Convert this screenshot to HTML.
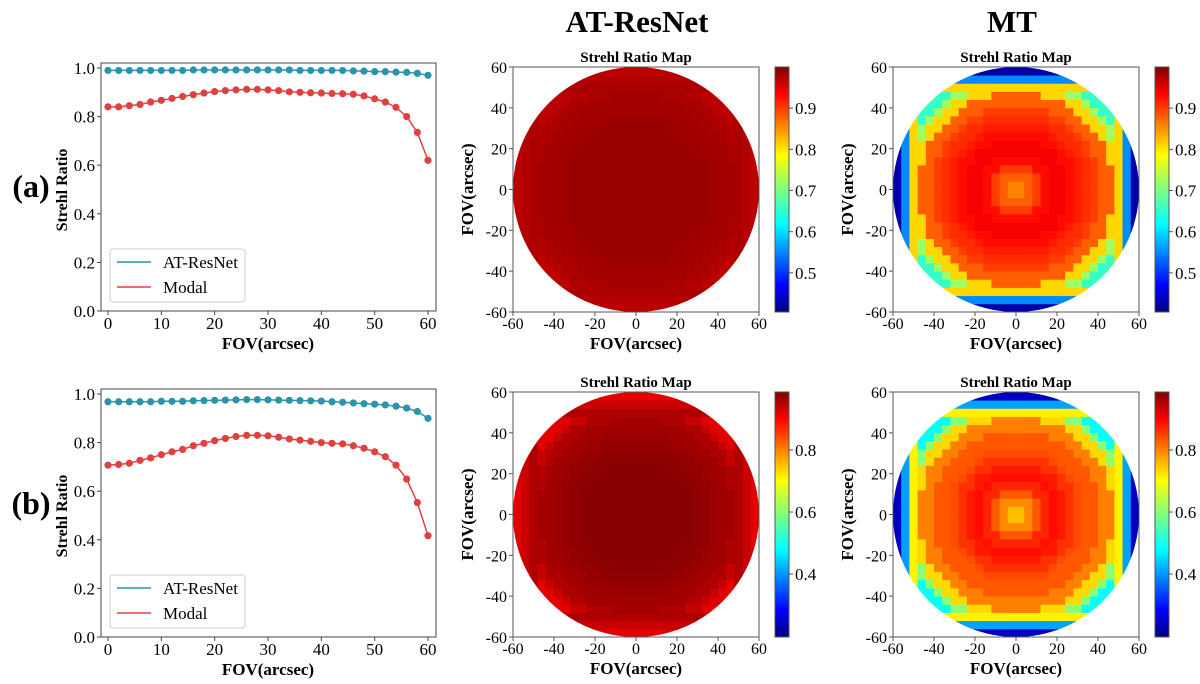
<!DOCTYPE html>
<html><head><meta charset="utf-8"><style>
html,body{margin:0;padding:0;background:#fff;}
svg{display:block;font-family:"Liberation Serif",serif;}
</style></head><body>
<svg id="fig" width="1200" height="684" xmlns="http://www.w3.org/2000/svg">
<defs>
<linearGradient id="jet" x1="0" y1="1" x2="0" y2="0">
<stop offset="0" stop-color="#00007f"/><stop offset="0.11" stop-color="#0000ff"/><stop offset="0.36" stop-color="#00ffff"/><stop offset="0.5" stop-color="#7fff7f"/><stop offset="0.64" stop-color="#ffff00"/><stop offset="0.89" stop-color="#ff0000"/><stop offset="1" stop-color="#7f0000"/>
</linearGradient>
</defs>
<text x="637" y="32" text-anchor="middle" font-size="31" font-weight="bold">AT-ResNet</text>
<text x="1012" y="32" text-anchor="middle" font-size="31" font-weight="bold">MT</text>
<text x="31" y="197" text-anchor="middle" font-size="32" font-weight="bold">(a)</text>
<text x="31" y="514" text-anchor="middle" font-size="32" font-weight="bold">(b)</text>
</svg>
<script>
// ---- Line chart data ----
const fovX = [0,2,4,6,8,10,12,14,16,18,20,22,24,26,28,30,32,34,36,38,40,42,44,46,48,50,52,54,56,58,60];
const atA = [0.99,0.99,0.99,0.99,0.99,0.99,0.99,0.99,0.992,0.992,0.992,0.992,0.992,0.992,0.992,0.992,0.992,0.992,0.99,0.99,0.99,0.99,0.99,0.988,0.987,0.985,0.985,0.983,0.982,0.978,0.97];
const modalA = [0.84,0.84,0.845,0.85,0.86,0.867,0.875,0.883,0.89,0.897,0.903,0.907,0.91,0.912,0.912,0.91,0.907,0.902,0.9,0.898,0.897,0.895,0.894,0.892,0.885,0.873,0.86,0.838,0.80,0.735,0.62];
const atB = [0.968,0.968,0.968,0.968,0.968,0.97,0.97,0.97,0.972,0.973,0.974,0.975,0.976,0.977,0.977,0.976,0.975,0.974,0.973,0.972,0.971,0.968,0.966,0.963,0.96,0.958,0.955,0.95,0.942,0.928,0.90];
const modalB = [0.707,0.71,0.715,0.727,0.737,0.75,0.762,0.772,0.787,0.797,0.808,0.817,0.825,0.83,0.83,0.828,0.822,0.815,0.81,0.805,0.8,0.797,0.795,0.787,0.777,0.762,0.742,0.707,0.65,0.553,0.417];
const xTicks = [0,10,20,30,40,50,60];
const yTicks = [0.0,0.2,0.4,0.6,0.8,1.0];
// ---- Heatmap profiles (value vs radius r=0,4,8,...,44) ----
const atCoreA = [0.985,0.985,0.985,0.985,0.985,0.985,0.985,0.985,0.985,0.983,0.98,0.978];
const atRimA = [0.975,0.97,0.965];
const atBandA = [0.975,0.97,0.965];
const mtCoreA = [0.84,0.85,0.87,0.89,0.92,0.93,0.93,0.92,0.91,0.9,0.89,0.87];
const mtRimA = [0.8,0.72,0.66];
const mtBandA = [0.8,0.56,0.43];
const atCoreB = [0.98,0.98,0.98,0.98,0.98,0.98,0.98,0.978,0.975,0.97,0.965,0.96];
const atRimB = [0.95,0.93,0.91];
const atBandB = [0.95,0.93,0.91];
const mtCoreB = [0.72,0.74,0.78,0.82,0.86,0.88,0.87,0.85,0.83,0.82,0.82,0.79];
const mtRimB = [0.72,0.6,0.5];
const mtBandB = [0.7,0.42,0.25];
const cbTicksA = [0.5,0.6,0.7,0.8,0.9];
const cbTicksB = [0.4,0.6,0.8];
const mapTicks = [-60,-40,-20,0,20,40,60];

const NS = "http://www.w3.org/2000/svg";
const svg = document.getElementById('fig');
function mk(tag, attrs, parent, text){
  const e = document.createElementNS(NS, tag);
  for (const k in attrs) e.setAttribute(k, attrs[k]);
  if (text !== undefined) e.textContent = text;
  (parent||svg).appendChild(e);
  return e;
}
function jet(t){
  t=Math.max(0,Math.min(1,t));
  const f=(x)=>Math.max(0,Math.min(1,1.5-Math.abs(4*t-x)));
  const r=f(3),g=f(2),b=f(1);
  return 'rgb('+Math.round(r*255)+','+Math.round(g*255)+','+Math.round(b*255)+')';
}

function lineChart(dy, at, modal, tag){
  const L=101,R=436,T=63+dy,B=311+dy;
  const sx=v=>108+(v/60)*320;
  const sy=v=>B-v*243;
  const g=mk('g',{},svg);
  
  
  const fr=mk('rect',{x:L,y:T,width:R-L,height:B-T,fill:'none',stroke:'#444','stroke-width':1},g);
  
  
  xTicks.forEach(v=>{
    mk('line',{x1:sx(v),x2:sx(v),y1:B,y2:B+4,stroke:'#444'},g);
    const t=mk('text',{x:sx(v),y:B+18,'text-anchor':'middle','font-size':17},g,String(v));
    
    
  });
  yTicks.forEach(v=>{
    mk('line',{x1:L-4,x2:L,y1:sy(v),y2:sy(v),stroke:'#444'},g);
    const t=mk('text',{x:L-6,y:sy(v)+6,'text-anchor':'end','font-size':17},g,v.toFixed(1));
    
    
  });
  const yl=mk('text',{x:0,y:0,'text-anchor':'middle','font-size':16,'font-weight':'bold',transform:'translate(67,'+(190+dy)+') rotate(-90)'},g,'Strehl Ratio');
  
  
  const xl=mk('text',{x:268,y:B+38,'text-anchor':'middle','font-size':17,'font-weight':'bold'},g,'FOV(arcsec)');
  
  
  [[at,'#2a94a8','atresnet'],[modal,'#e04040','modal']].forEach(([arr,c,n])=>{
    const p=mk('polyline',{points:arr.map((v,i)=>sx(fovX[i])+','+sy(v)).join(' '),fill:'none',stroke:c,'stroke-width':1.5},g);
    
    
    arr.forEach((v,i)=>{
      const d=mk('circle',{cx:sx(fovX[i]),cy:sy(v),r:3.6,fill:c},g);
      
      
    });
  });
  const lg=mk('g',{},g);
  
  
  mk('rect',{x:110,y:249+dy,width:135,height:53,fill:'#fff',stroke:'#ccc',rx:3},lg);
  mk('line',{x1:117,x2:151,y1:262+dy,y2:262+dy,stroke:'#2a94a8','stroke-width':1.5},lg);
  const l1=mk('text',{x:163,y:268+dy,'font-size':17},lg,'AT-ResNet');
  
  
  mk('line',{x1:117,x2:151,y1:287+dy,y2:287+dy,stroke:'#e04040','stroke-width':1.5},lg);
  const l2=mk('text',{x:163,y:293+dy,'font-size':17},lg,'Modal');
  
  
}

function heatmap(x0, y0, core, rim, band, vmin, vmax, cbTicks, tag){
  const W=246,H=245;
  const sx=v=>x0+(v+60)/120*W;
  const sy=v=>y0+(60-v)/120*H;
  const g=mk('g',{},svg);
  
  
  const cid='clip-'+tag;
  const cp=mk('clipPath',{id:cid},g);
  mk('ellipse',{cx:sx(0),cy:sy(0),rx:W/2,ry:H/2},cp);
  const cells=mk('g',{'clip-path':'url(#'+cid+')'},g);
  for(let cx=-58;cx<=58;cx+=4){
    for(let cy=-58;cy<=58;cy+=4){
      const r=Math.sqrt(cx*cx+cy*cy);
      if(r>64) continue;
      const d=Math.max(Math.abs(cx),Math.abs(cy));
      let v;
      if(d>=50){ v=band[d>=58?2:(d>=54?1:0)]; }
      else if(r>=48){ v=rim[r>=56?2:(r>=52?1:0)]; }
      else { v=core[Math.min(core.length-1,Math.round(r/4))]; }
      const c=mk('rect',{x:sx(cx-2),y:sy(cy+2),width:W/30+0.4,height:H/30+0.4,fill:jet((v-vmin)/(vmax-vmin))},cells);
      
      
    }
  }
  mk('rect',{x:x0,y:y0,width:W,height:H,fill:'none',stroke:'#555'},g);
  const tt=mk('text',{x:x0+W/2,y:y0-5,'text-anchor':'middle','font-size':15,'font-weight':'bold'},g,'Strehl Ratio Map');
  
  
  mapTicks.forEach(v=>{
    mk('line',{x1:sx(v),x2:sx(v),y1:y0+H,y2:y0+H+4,stroke:'#555'},g);
    const a=mk('text',{x:sx(v),y:y0+H+17,'text-anchor':'middle','font-size':16},g,String(v));
    
    
    mk('line',{x1:x0-4,x2:x0,y1:sy(v),y2:sy(v),stroke:'#555'},g);
    const b=mk('text',{x:x0-6,y:sy(v)+6,'text-anchor':'end','font-size':16},g,String(v));
    
    
  });
  const xl=mk('text',{x:x0+W/2,y:y0+H+37,'text-anchor':'middle','font-size':17,'font-weight':'bold'},g,'FOV(arcsec)');
  
  
  const yl=mk('text',{x:0,y:0,'text-anchor':'middle','font-size':17,'font-weight':'bold',transform:'translate('+(x0-40)+','+(y0+H/2)+') rotate(-90)'},g,'FOV(arcsec)');
  
  
  const cbx=x0+262;
  const cb=mk('rect',{x:cbx,y:y0,width:14,height:H,fill:'url(#jet)',stroke:'#555'},g);
  
  
  cbTicks.forEach(v=>{
    const yy=y0+H-(v-vmin)/(vmax-vmin)*H;
    mk('line',{x1:cbx+14,x2:cbx+18,y1:yy,y2:yy,stroke:'#555'},g);
    const t=mk('text',{x:cbx+20,y:yy+6,'font-size':17},g,v.toFixed(1));
    
    
  });
}

lineChart(0, atA, modalA, 'a');
lineChart(326, atB, modalB, 'b');
heatmap(513, 67, atCoreA, atRimA, atBandA, 0.405, 1.0, cbTicksA, 'atresnet-a');
heatmap(893, 67, mtCoreA, mtRimA, mtBandA, 0.405, 1.0, cbTicksA, 'mt-a');
heatmap(513, 392, atCoreB, atRimB, atBandB, 0.197, 0.987, cbTicksB, 'atresnet-b');
heatmap(893, 392, mtCoreB, mtRimB, mtBandB, 0.197, 0.987, cbTicksB, 'mt-b');
</script>
</body></html>
